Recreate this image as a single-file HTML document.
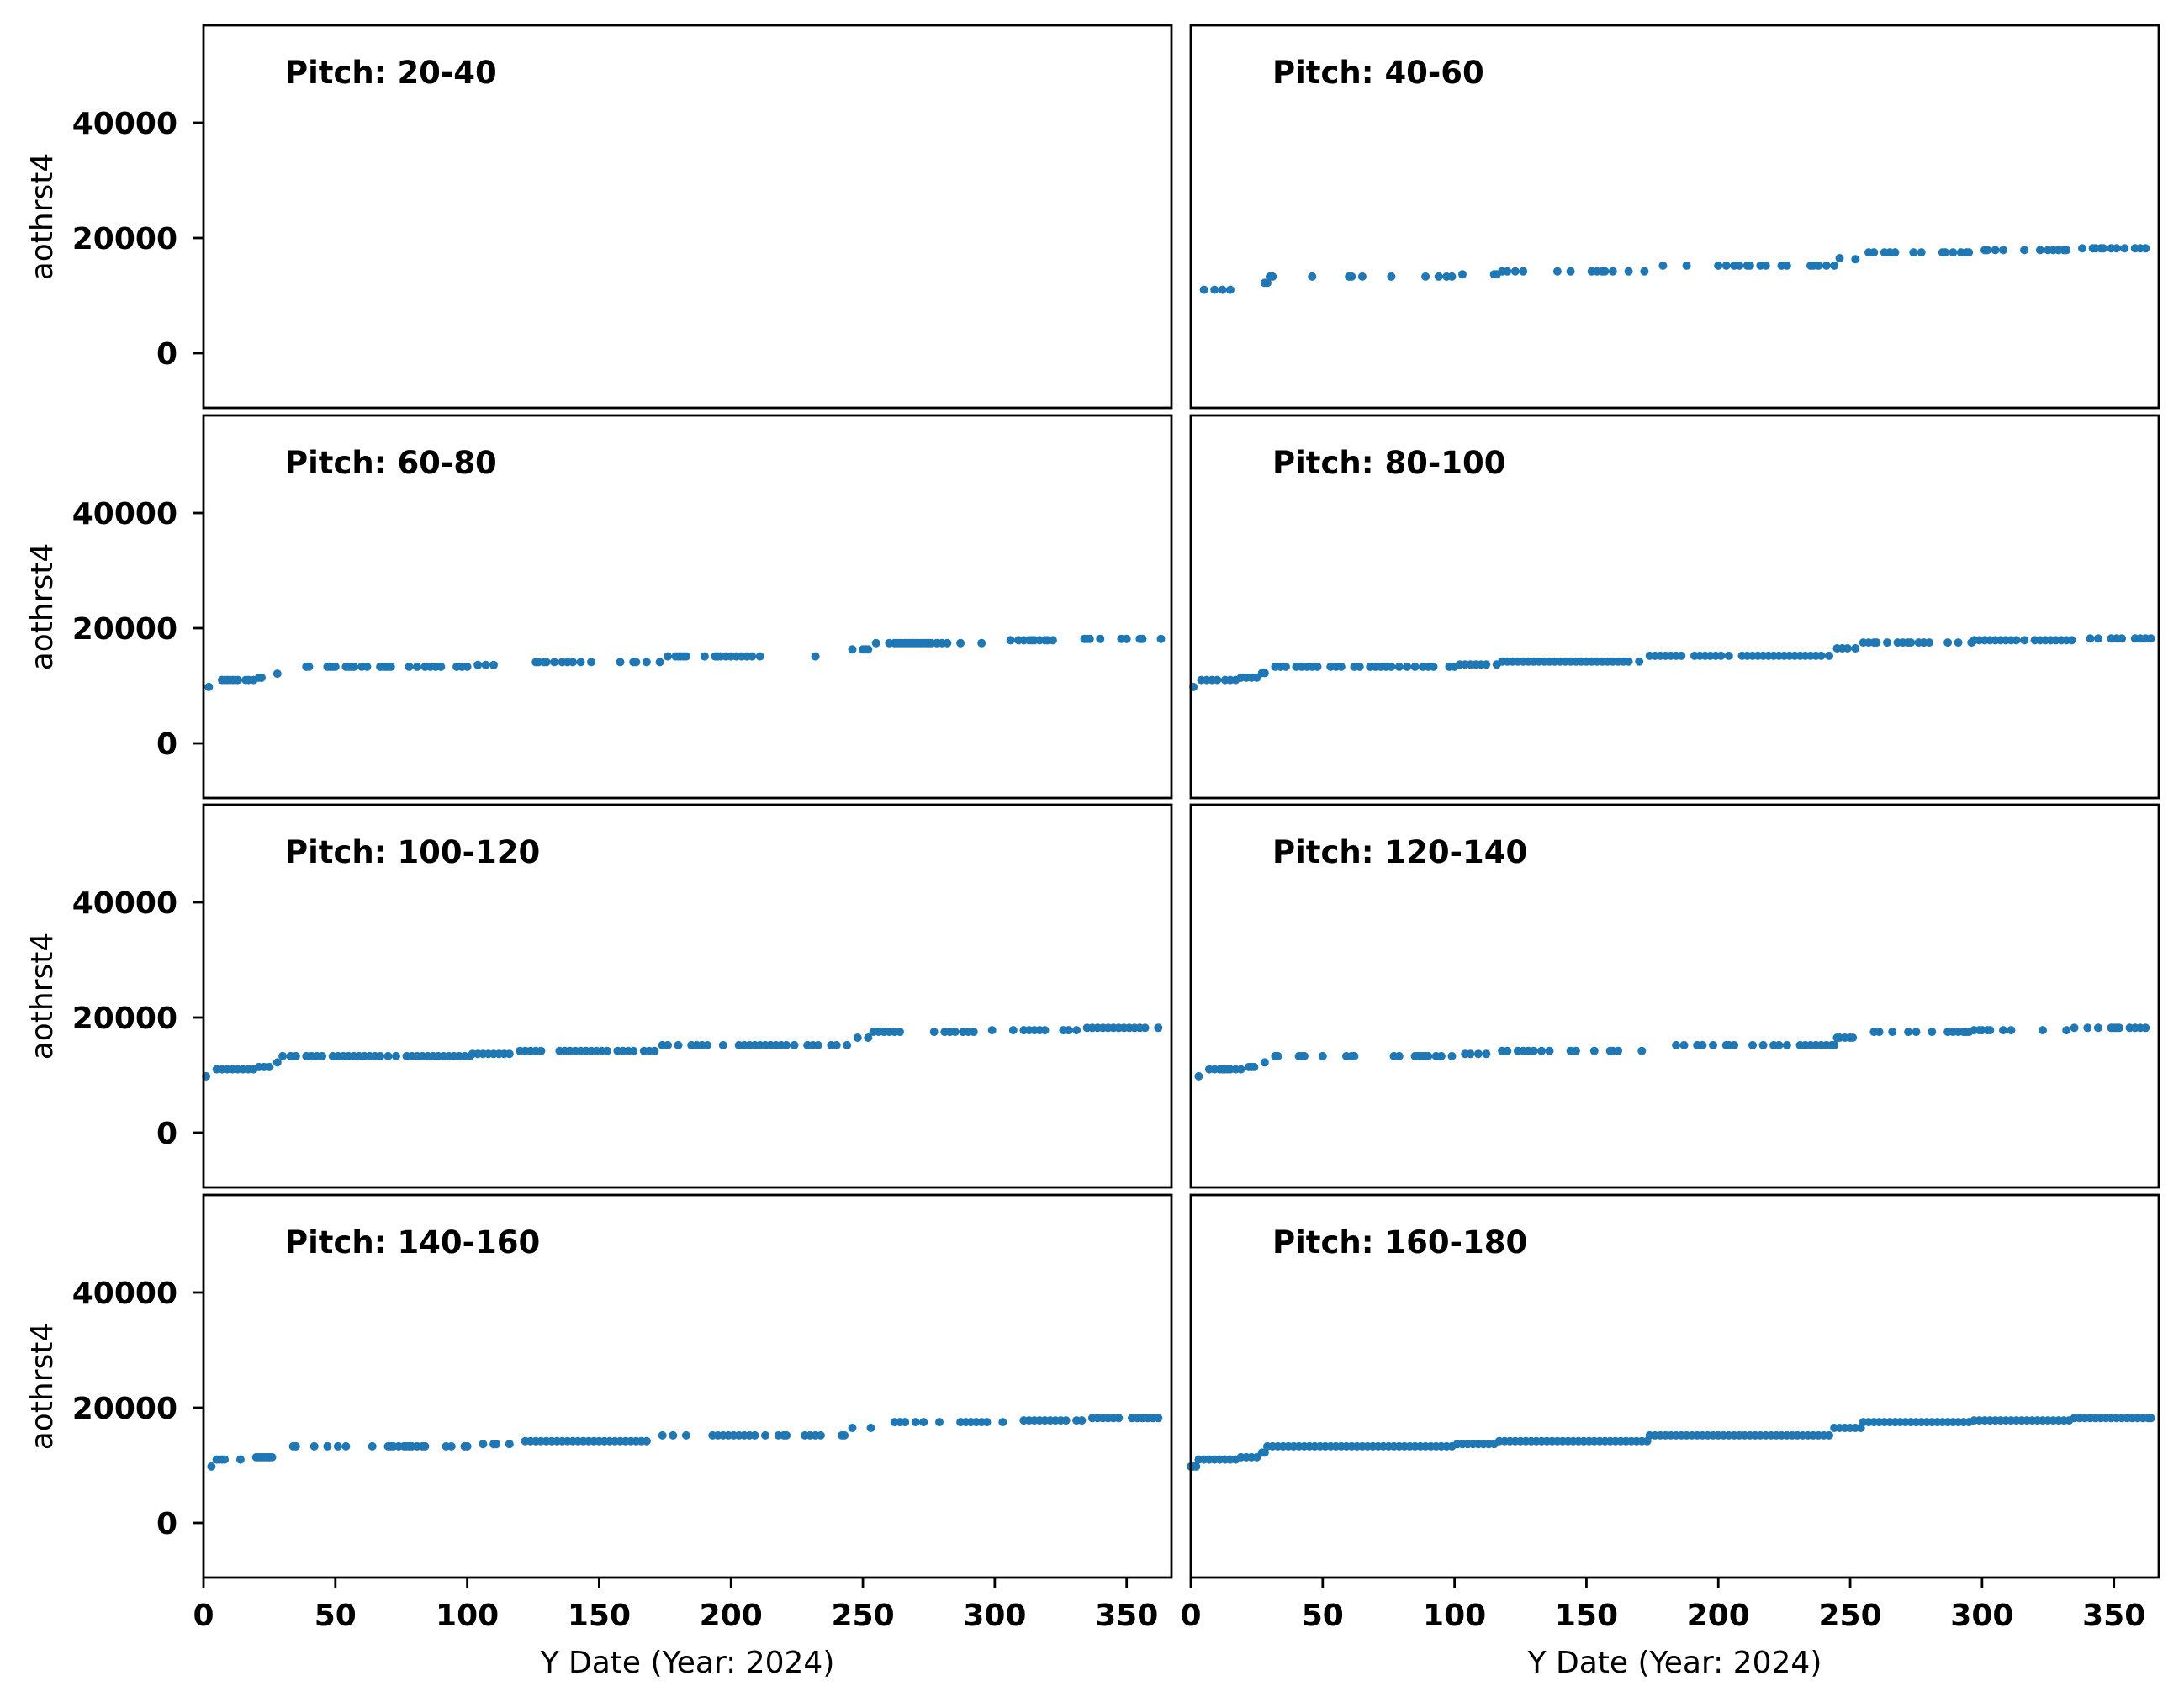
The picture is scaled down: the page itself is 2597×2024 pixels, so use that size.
<!DOCTYPE html>
<html><head><meta charset="utf-8"><style>
html,body{margin:0;padding:0;background:#fff;}
svg{display:block;}
text{font-family:"DejaVu Sans","Liberation Sans",sans-serif;}
</style></head><body>
<svg id="fig" width="2597" height="2024" viewBox="0 0 2597 2024" xmlns="http://www.w3.org/2000/svg"></svg>
<script>
const panelTitles = ["Pitch: 20-40","Pitch: 40-60","Pitch: 60-80","Pitch: 80-100","Pitch: 100-120","Pitch: 120-140","Pitch: 140-160","Pitch: 160-180"];
const xTicks = [0,50,100,150,200,250,300,350];
const yTicks = [0,20000,40000];
const xLimits = [0,367];
const yLimits = [-9489,56934];

const p20 = [];
const p40 = [[5,11000],[9,11000],[12,11000],[15,11000],[28,12200],[29,12200],[30,13300],[31,13300],[46,13300],[60,13300],[61,13300],[65,13300],[76,13300],[89,13300],[94,13300],[97,13300],[99,13300],[103,13700],[115,13700],[116,13700],[118,14200],[120,14200],[123,14200],[126,14200],[139,14200],[144,14200],[152,14200],[154,14200],[156,14200],[157,14200],[160,14200],[166,14200],[172,14200],[179,15200],[188,15200],[200,15200],[203,15200],[206,15200],[208,15200],[211,15200],[212,15200],[216,15200],[218,15200],[224,15200],[226,15200],[235,15200],[236,15200],[238,15200],[241,15200],[244,15200],[246,16500],[252,16300],[257,17500],[259,17500],[263,17500],[265,17500],[267,17500],[274,17500],[277,17500],[285,17500],[286,17500],[289,17500],[292,17500],[294,17500],[295,17500],[301,17900],[302,17900],[305,17900],[308,17900],[316,17900],[322,17900],[325,17900],[327,17900],[329,17900],[331,17900],[332,17900],[338,18200],[342,18200],[343,18200],[345,18200],[346,18200],[349,18200],[351,18200],[354,18200],[358,18200],[360,18200],[362,18200]];
const p60 = [[2,9800],[7,11000],[8,11000],[9,11000],[10,11000],[11,11000],[12,11000],[13,11000],[16,11000],[17,11000],[19,11000],[21,11400],[22,11400],[28,12100],[39,13300],[40,13300],[47,13300],[48,13300],[49,13300],[50,13300],[54,13300],[55,13300],[56,13300],[57,13300],[60,13300],[62,13300],[67,13300],[68,13300],[69,13300],[70,13300],[71,13300],[78,13300],[81,13300],[84,13300],[86,13300],[88,13300],[90,13300],[96,13300],[98,13300],[100,13300],[104,13600],[107,13600],[110,13600],[126,14100],[127,14100],[129,14100],[130,14100],[133,14100],[136,14100],[138,14100],[140,14100],[143,14100],[147,14100],[158,14100],[163,14100],[164,14100],[168,14100],[173,14100],[176,15100],[179,15100],[180,15100],[181,15100],[182,15100],[183,15100],[190,15100],[194,15100],[195,15100],[196,15100],[198,15100],[200,15100],[202,15100],[204,15100],[206,15100],[208,15100],[211,15100],[232,15100],[246,16300],[250,16300],[251,16300],[252,16300],[255,17400],[260,17400],[262,17400],[263,17400],[264,17400],[265,17400],[266,17400],[267,17400],[268,17400],[269,17400],[270,17400],[271,17400],[272,17400],[273,17400],[274,17400],[275,17400],[276,17400],[278,17400],[280,17400],[282,17400],[287,17400],[295,17400],[306,17900],[309,17900],[311,17900],[313,17900],[314,17900],[315,17900],[317,17900],[319,17900],[320,17900],[322,17900],[334,18150],[335,18150],[336,18150],[340,18150],[348,18150],[350,18150],[355,18150],[356,18150],[363,18150]];
const p80 = [[1,9800],[4,11000],[6,11000],[8,11000],[10,11000],[13,11000],[15,11000],[17,11000],[19,11400],[21,11400],[23,11400],[25,11400],[27,12200],[28,12200],[32,13300],[34,13300],[36,13300],[40,13300],[42,13300],[44,13300],[46,13300],[48,13300],[53,13300],[55,13300],[57,13300],[62,13300],[64,13300],[68,13300],[70,13300],[72,13300],[74,13300],[76,13300],[79,13300],[82,13300],[85,13300],[88,13300],[90,13300],[92,13300],[98,13300],[100,13300],[102,13700],[104,13700],[106,13700],[108,13700],[110,13700],[112,13700],[116,13700],[118,14200],[120,14200],[122,14200],[124,14200],[126,14200],[128,14200],[130,14200],[132,14200],[134,14200],[136,14200],[138,14200],[140,14200],[142,14200],[144,14200],[146,14200],[148,14200],[150,14200],[152,14200],[154,14200],[156,14200],[158,14200],[160,14200],[162,14200],[164,14200],[166,14200],[170,14200],[174,15200],[176,15200],[178,15200],[180,15200],[182,15200],[184,15200],[186,15200],[191,15200],[193,15200],[195,15200],[197,15200],[199,15200],[201,15200],[204,15200],[209,15200],[211,15200],[213,15200],[215,15200],[217,15200],[219,15200],[221,15200],[223,15200],[225,15200],[227,15200],[229,15200],[231,15200],[233,15200],[235,15200],[237,15200],[239,15200],[242,15200],[245,16500],[247,16500],[249,16500],[252,16500],[255,17500],[257,17500],[259,17500],[260,17500],[264,17500],[268,17500],[270,17500],[272,17500],[273,17500],[276,17500],[278,17500],[280,17500],[287,17500],[291,17500],[296,17500],[297,17900],[299,17900],[301,17900],[303,17900],[305,17900],[307,17900],[309,17900],[311,17900],[313,17900],[316,17900],[320,17900],[322,17900],[324,17900],[326,17900],[328,17900],[330,17900],[332,17900],[334,17900],[341,18200],[344,18200],[349,18200],[351,18200],[353,18200],[358,18200],[360,18200],[362,18200],[364,18200]];
const p100 = [[1,9800],[5,11000],[7,11000],[9,11000],[11,11000],[13,11000],[15,11000],[17,11000],[19,11000],[21,11400],[23,11400],[25,11400],[28,12200],[30,13300],[33,13300],[35,13300],[39,13300],[41,13300],[43,13300],[45,13300],[49,13300],[51,13300],[53,13300],[55,13300],[57,13300],[59,13300],[61,13300],[63,13300],[65,13300],[67,13300],[70,13300],[73,13300],[77,13300],[79,13300],[81,13300],[83,13300],[85,13300],[87,13300],[89,13300],[91,13300],[93,13300],[95,13300],[97,13300],[99,13300],[101,13300],[102,13700],[104,13700],[106,13700],[108,13700],[110,13700],[112,13700],[114,13700],[116,13700],[120,14200],[122,14200],[124,14200],[126,14200],[128,14200],[135,14200],[137,14200],[139,14200],[141,14200],[143,14200],[145,14200],[147,14200],[149,14200],[151,14200],[153,14200],[157,14200],[159,14200],[161,14200],[163,14200],[167,14200],[169,14200],[171,14200],[174,15200],[176,15200],[180,15200],[185,15200],[187,15200],[189,15200],[191,15200],[197,15200],[203,15200],[205,15200],[207,15200],[209,15200],[211,15200],[213,15200],[215,15200],[217,15200],[219,15200],[221,15200],[224,15200],[229,15200],[231,15200],[233,15200],[238,15200],[240,15200],[244,15200],[248,16500],[252,16500],[254,17500],[256,17500],[258,17500],[260,17500],[262,17500],[264,17500],[277,17500],[281,17500],[283,17500],[285,17500],[288,17500],[290,17500],[292,17500],[299,17800],[307,17800],[311,17800],[313,17800],[315,17800],[317,17800],[319,17800],[326,17800],[328,17800],[331,17800],[335,18200],[337,18200],[339,18200],[341,18200],[343,18200],[345,18200],[347,18200],[349,18200],[351,18200],[353,18200],[355,18200],[357,18200],[362,18200]];
const p120 = [[3,9800],[7,11000],[9,11000],[11,11000],[12,11000],[13,11000],[14,11000],[15,11000],[17,11000],[19,11000],[22,11400],[23,11400],[24,11400],[28,12200],[32,13300],[33,13300],[41,13300],[42,13300],[43,13300],[50,13300],[59,13300],[61,13300],[62,13300],[77,13300],[79,13300],[85,13300],[86,13300],[87,13300],[88,13300],[89,13300],[90,13300],[93,13300],[95,13300],[99,13300],[104,13700],[106,13700],[109,13700],[112,13700],[118,14200],[120,14200],[124,14200],[126,14200],[128,14200],[130,14200],[133,14200],[136,14200],[144,14200],[146,14200],[153,14200],[159,14200],[160,14200],[162,14200],[171,14200],[184,15200],[187,15200],[192,15200],[194,15200],[198,15200],[203,15200],[204,15200],[206,15200],[213,15200],[217,15200],[221,15200],[223,15200],[226,15200],[231,15200],[233,15200],[235,15200],[237,15200],[239,15200],[241,15200],[243,15200],[244,15200],[245,16500],[246,16500],[248,16500],[250,16500],[251,16500],[259,17500],[261,17500],[266,17500],[272,17500],[275,17500],[281,17500],[287,17500],[289,17500],[291,17500],[293,17500],[294,17500],[295,17500],[297,17800],[299,17800],[300,17800],[302,17800],[303,17800],[308,17800],[311,17800],[323,17800],[332,17800],[335,18200],[340,18200],[344,18200],[349,18200],[350,18200],[351,18200],[352,18200],[356,18200],[358,18200],[360,18200],[362,18200]];
const p140 = [[3,9800],[5,11000],[6,11000],[7,11000],[8,11000],[14,11000],[20,11400],[21,11400],[22,11400],[23,11400],[24,11400],[25,11400],[26,11400],[34,13300],[35,13300],[42,13300],[47,13300],[51,13300],[54,13300],[64,13300],[70,13300],[71,13300],[72,13300],[74,13300],[76,13300],[77,13300],[78,13300],[79,13300],[81,13300],[83,13300],[84,13300],[92,13300],[94,13300],[99,13300],[100,13300],[106,13700],[110,13700],[111,13700],[116,13700],[122,14200],[124,14200],[126,14200],[128,14200],[130,14200],[132,14200],[134,14200],[136,14200],[138,14200],[140,14200],[142,14200],[144,14200],[146,14200],[148,14200],[150,14200],[152,14200],[154,14200],[156,14200],[158,14200],[160,14200],[162,14200],[164,14200],[166,14200],[168,14200],[174,15200],[178,15200],[183,15200],[193,15200],[195,15200],[197,15200],[199,15200],[201,15200],[203,15200],[205,15200],[207,15200],[209,15200],[213,15200],[218,15200],[220,15200],[221,15200],[228,15200],[230,15200],[232,15200],[234,15200],[242,15200],[243,15200],[246,16500],[253,16500],[262,17500],[264,17500],[266,17500],[270,17500],[273,17500],[279,17500],[287,17500],[289,17500],[291,17500],[293,17500],[295,17500],[297,17500],[303,17500],[311,17800],[313,17800],[315,17800],[317,17800],[319,17800],[321,17800],[323,17800],[325,17800],[327,17800],[331,17800],[333,17800],[337,18200],[339,18200],[341,18200],[343,18200],[345,18200],[347,18200],[352,18200],[354,18200],[356,18200],[358,18200],[360,18200],[362,18200]];
const p160 = [[0,9800],[1,9800],[2,9800],[3,11000],[5,11000],[7,11000],[9,11000],[11,11000],[13,11000],[15,11000],[17,11000],[19,11400],[21,11400],[23,11400],[25,11400],[27,12200],[28,12200],[29,13300],[31,13300],[33,13300],[35,13300],[37,13300],[39,13300],[41,13300],[43,13300],[45,13300],[47,13300],[49,13300],[51,13300],[53,13300],[55,13300],[57,13300],[59,13300],[61,13300],[63,13300],[65,13300],[67,13300],[69,13300],[71,13300],[73,13300],[75,13300],[77,13300],[79,13300],[81,13300],[83,13300],[85,13300],[87,13300],[89,13300],[91,13300],[93,13300],[95,13300],[97,13300],[99,13300],[101,13700],[103,13700],[105,13700],[107,13700],[109,13700],[111,13700],[113,13700],[115,13700],[117,14200],[119,14200],[121,14200],[123,14200],[125,14200],[127,14200],[129,14200],[131,14200],[133,14200],[135,14200],[137,14200],[139,14200],[141,14200],[143,14200],[145,14200],[147,14200],[149,14200],[151,14200],[153,14200],[155,14200],[157,14200],[159,14200],[161,14200],[163,14200],[165,14200],[167,14200],[169,14200],[171,14200],[173,14200],[174,15200],[176,15200],[178,15200],[180,15200],[182,15200],[184,15200],[186,15200],[188,15200],[190,15200],[192,15200],[194,15200],[196,15200],[198,15200],[200,15200],[202,15200],[204,15200],[206,15200],[208,15200],[210,15200],[212,15200],[214,15200],[216,15200],[218,15200],[220,15200],[222,15200],[224,15200],[226,15200],[228,15200],[230,15200],[232,15200],[234,15200],[236,15200],[238,15200],[240,15200],[242,15200],[244,16500],[246,16500],[248,16500],[250,16500],[252,16500],[254,16500],[255,17500],[257,17500],[259,17500],[261,17500],[263,17500],[265,17500],[267,17500],[269,17500],[271,17500],[273,17500],[275,17500],[277,17500],[279,17500],[281,17500],[283,17500],[285,17500],[287,17500],[289,17500],[291,17500],[293,17500],[295,17500],[297,17800],[299,17800],[301,17800],[303,17800],[305,17800],[307,17800],[309,17800],[311,17800],[313,17800],[315,17800],[317,17800],[319,17800],[321,17800],[323,17800],[325,17800],[327,17800],[329,17800],[331,17800],[333,17800],[335,18200],[337,18200],[339,18200],[341,18200],[343,18200],[345,18200],[347,18200],[349,18200],[351,18200],[353,18200],[355,18200],[357,18200],[359,18200],[361,18200],[363,18200],[364,18200]];
const panelData = [p20,p40,p60,p80,p100,p120,p140,p160];

const NS = "http://www.w3.org/2000/svg";
const svg = document.getElementById('fig');
const colX = [242,1416], PW = 1151, rowT = [30,494,957,1421], PH = 455;
function mk(tag, attrs, parent){ const e=document.createElementNS(NS,tag); for(const k in attrs) e.setAttribute(k,attrs[k]); (parent||svg).appendChild(e); return e; }
function xScale(x0,d){ return x0 + (d - xLimits[0])/(xLimits[1]-xLimits[0])*PW; }
function yScale(t0,v){ return t0 + (yLimits[1]-v)/(yLimits[1]-yLimits[0])*PH; }

for(let i=0;i<8;i++){
  const r=Math.floor(i/2), c=i%2, x0=colX[c], t0=rowT[r];
  const g=mk('g',{});
  
  
  const pts=mk('g',{fill:'#1f77b4'},g);
  
  
  panelData[i].forEach(p=>{
    const cc=mk('circle',{cx:xScale(x0,p[0]).toFixed(1),cy:yScale(t0,p[1]).toFixed(1),r:5},pts);
    
    
  });
  const fr=mk('rect',{x:x0,y:t0,width:PW,height:PH,fill:'none',stroke:'#000','stroke-width':2.8},g);
  
  
  const tt=mk('text',{x:x0+97,y:t0+69,'font-size':37,'font-weight':'bold'},g);
  tt.textContent=panelTitles[i];
  
  
  if(c===0){
    yTicks.forEach(v=>{
      const y=yScale(t0,v);
      const tk=mk('line',{x1:x0-13,x2:x0,y1:y,y2:y,stroke:'#000','stroke-width':2.8},g);
      
      
      const tl=mk('text',{x:x0-31,y:y+13,'font-size':36,'font-weight':'bold','text-anchor':'end'},g);
      tl.textContent=String(v);
      
      
    });
    const yl=mk('text',{x:0,y:0,'font-size':36,'text-anchor':'middle',transform:'translate(62,'+(t0+PH/2)+') rotate(-90)'},g);
    yl.textContent='aothrst4';
    
    
  }
  if(r===3){
    xTicks.forEach(v=>{
      const x=xScale(x0,v);
      const tk=mk('line',{x1:x,x2:x,y1:t0+PH,y2:t0+PH+13,stroke:'#000','stroke-width':2.8},g);
      
      
      const tl=mk('text',{x:x,y:t0+PH+57,'font-size':36,'font-weight':'bold','text-anchor':'middle'},g);
      tl.textContent=String(v);
      
      
    });
    const xl=mk('text',{x:x0+PW/2,y:t0+PH+113,'font-size':36,'text-anchor':'middle'},g);
    xl.textContent='Y Date (Year: 2024)';
    
    
  }
}
</script>
</body></html>
